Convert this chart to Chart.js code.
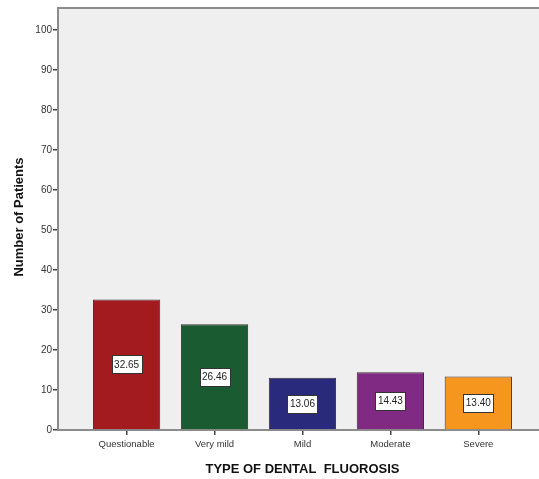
<!DOCTYPE html>
<html>
<head>
<meta charset="utf-8">
<script src="https://cdn.jsdelivr.net/npm/chart.js@4.4.1/dist/chart.umd.min.js"></script>
<style>
  html, body { margin: 0; padding: 0; background: #ffffff; }
  canvas { display: block; }
</style>
</head>
<body>
<canvas id="chart" width="539" height="479"></canvas>
<script>
// Dental fluorosis types and patient counts
const categories = ['Questionable', 'Very mild', 'Mild', 'Moderate', 'Severe'];
const values = [32.65, 26.46, 13.06, 14.43, 13.40];
const barColors = ['#a31b1f', '#1a5b32', '#2a2a7c', '#802a83', '#f7961e'];
const yTicks = [0, 10, 20, 30, 40, 50, 60, 70, 80, 90, 100];
const xTitle = 'TYPE OF DENTAL  FLUOROSIS';
const yTitle = 'Number of Patients';

const FONT = '"Liberation Sans", Arial, sans-serif';

// Grey plot panel with a top frame line
const panelPlugin = {
  id: 'panel',
  beforeDraw(chart) {
    const { ctx, chartArea: a } = chart;
    ctx.save();
    ctx.fillStyle = '#efefef';
    ctx.fillRect(a.left, a.top, a.right - a.left, a.bottom - a.top);
    ctx.strokeStyle = '#8c8c8c';
    ctx.lineWidth = 2;
    ctx.beginPath();
    ctx.moveTo(a.left, a.top);
    ctx.lineTo(a.right, a.top);
    ctx.stroke();
    ctx.restore();
  }
};

// Boxed value label in the middle of each bar
const valueLabelPlugin = {
  id: 'valueLabels',
  afterDatasetsDraw(chart) {
    const { ctx } = chart;
    const meta = chart.getDatasetMeta(0);
    ctx.save();
    ctx.font = '10px ' + FONT;
    ctx.textAlign = 'center';
    ctx.textBaseline = 'middle';
    meta.data.forEach((el, i) => {
      const txt = values[i].toFixed(2);
      const cy = (el.y + el.base) / 2;
      const w = Math.round(ctx.measureText(txt).width + 5);
      const h = 18;
      const bx = Math.round(el.x - w / 2) + 0.5;
      const by = Math.round(cy - h / 2) + 0.5;
      ctx.fillStyle = '#ffffff';
      ctx.fillRect(bx, by, w, h);
      ctx.strokeStyle = '#333333';
      ctx.lineWidth = 1;
      ctx.strokeRect(bx, by, w, h);
      ctx.fillStyle = '#222222';
      ctx.fillText(txt, el.x, cy + 0.5);
    });
    ctx.restore();
  }
};

// Axis titles
const axisTitlePlugin = {
  id: 'axisTitles',
  afterDraw(chart) {
    const { ctx, chartArea: a, scales } = chart;
    ctx.save();
    ctx.fillStyle = '#111111';
    ctx.font = 'bold 13px ' + FONT;
    ctx.textAlign = 'center';
    ctx.textBaseline = 'middle';
    const xs = scales.x;
    const cx = (xs.getPixelForValue(0) + xs.getPixelForValue(categories.length - 1)) / 2;
    ctx.fillText(xTitle, cx, a.bottom + 39);
    ctx.translate(19, (a.top + a.bottom) / 2 - 2);
    ctx.rotate(-Math.PI / 2);
    ctx.fillText(yTitle, 0, 0);
    ctx.restore();
  }
};

new Chart(document.getElementById('chart'), {
  type: 'bar',
  data: {
    datasets: [{
      data: categories.map((c, i) => ({ x: i, y: values[i] })),
      backgroundColor: barColors,
      borderColor: '#3a3030',
      borderWidth: 1,
      categoryPercentage: 1,
      barPercentage: 0.765
    }]
  },
  options: {
    responsive: false,
    animation: false,
    layout: { padding: { top: 8, left: 0, right: 0, bottom: 0 } },
    plugins: {
      legend: { display: false },
      tooltip: { enabled: false }
    },
    scales: {
      x: {
        type: 'linear',
        offset: false,
        min: -0.78,
        max: 4.69,
        afterBuildTicks(scale) {
          scale.ticks = categories.map((c, i) => ({ value: i }));
        },
        afterFit(scale) { scale.height = 49; },
        ticks: {
          autoSkip: false,
          maxRotation: 0,
          padding: 4,
          color: '#333333',
          font: { family: FONT, size: 9.5 },
          callback: (v) => categories[v]
        },
        grid: {
          offset: false,
          drawOnChartArea: false,
          drawTicks: true,
          tickLength: 5,
          color: '#444444',
          lineWidth: 1.5
        },
        border: { display: true, color: '#8c8c8c', width: 2 }
      },
      y: {
        min: 0,
        max: 105.5,
        afterBuildTicks(scale) {
          scale.ticks = yTicks.map(v => ({ value: v }));
        },
        afterFit(scale) { scale.width = 58; },
        ticks: {
          padding: 1,
          color: '#333333',
          font: { family: FONT, size: 10 }
        },
        grid: {
          drawOnChartArea: false,
          drawTicks: true,
          tickLength: 5,
          color: '#444444',
          lineWidth: 1.5
        },
        border: { display: true, color: '#8c8c8c', width: 2 }
      }
    }
  },
  plugins: [panelPlugin, valueLabelPlugin, axisTitlePlugin]
});
</script>
</body>
</html>
